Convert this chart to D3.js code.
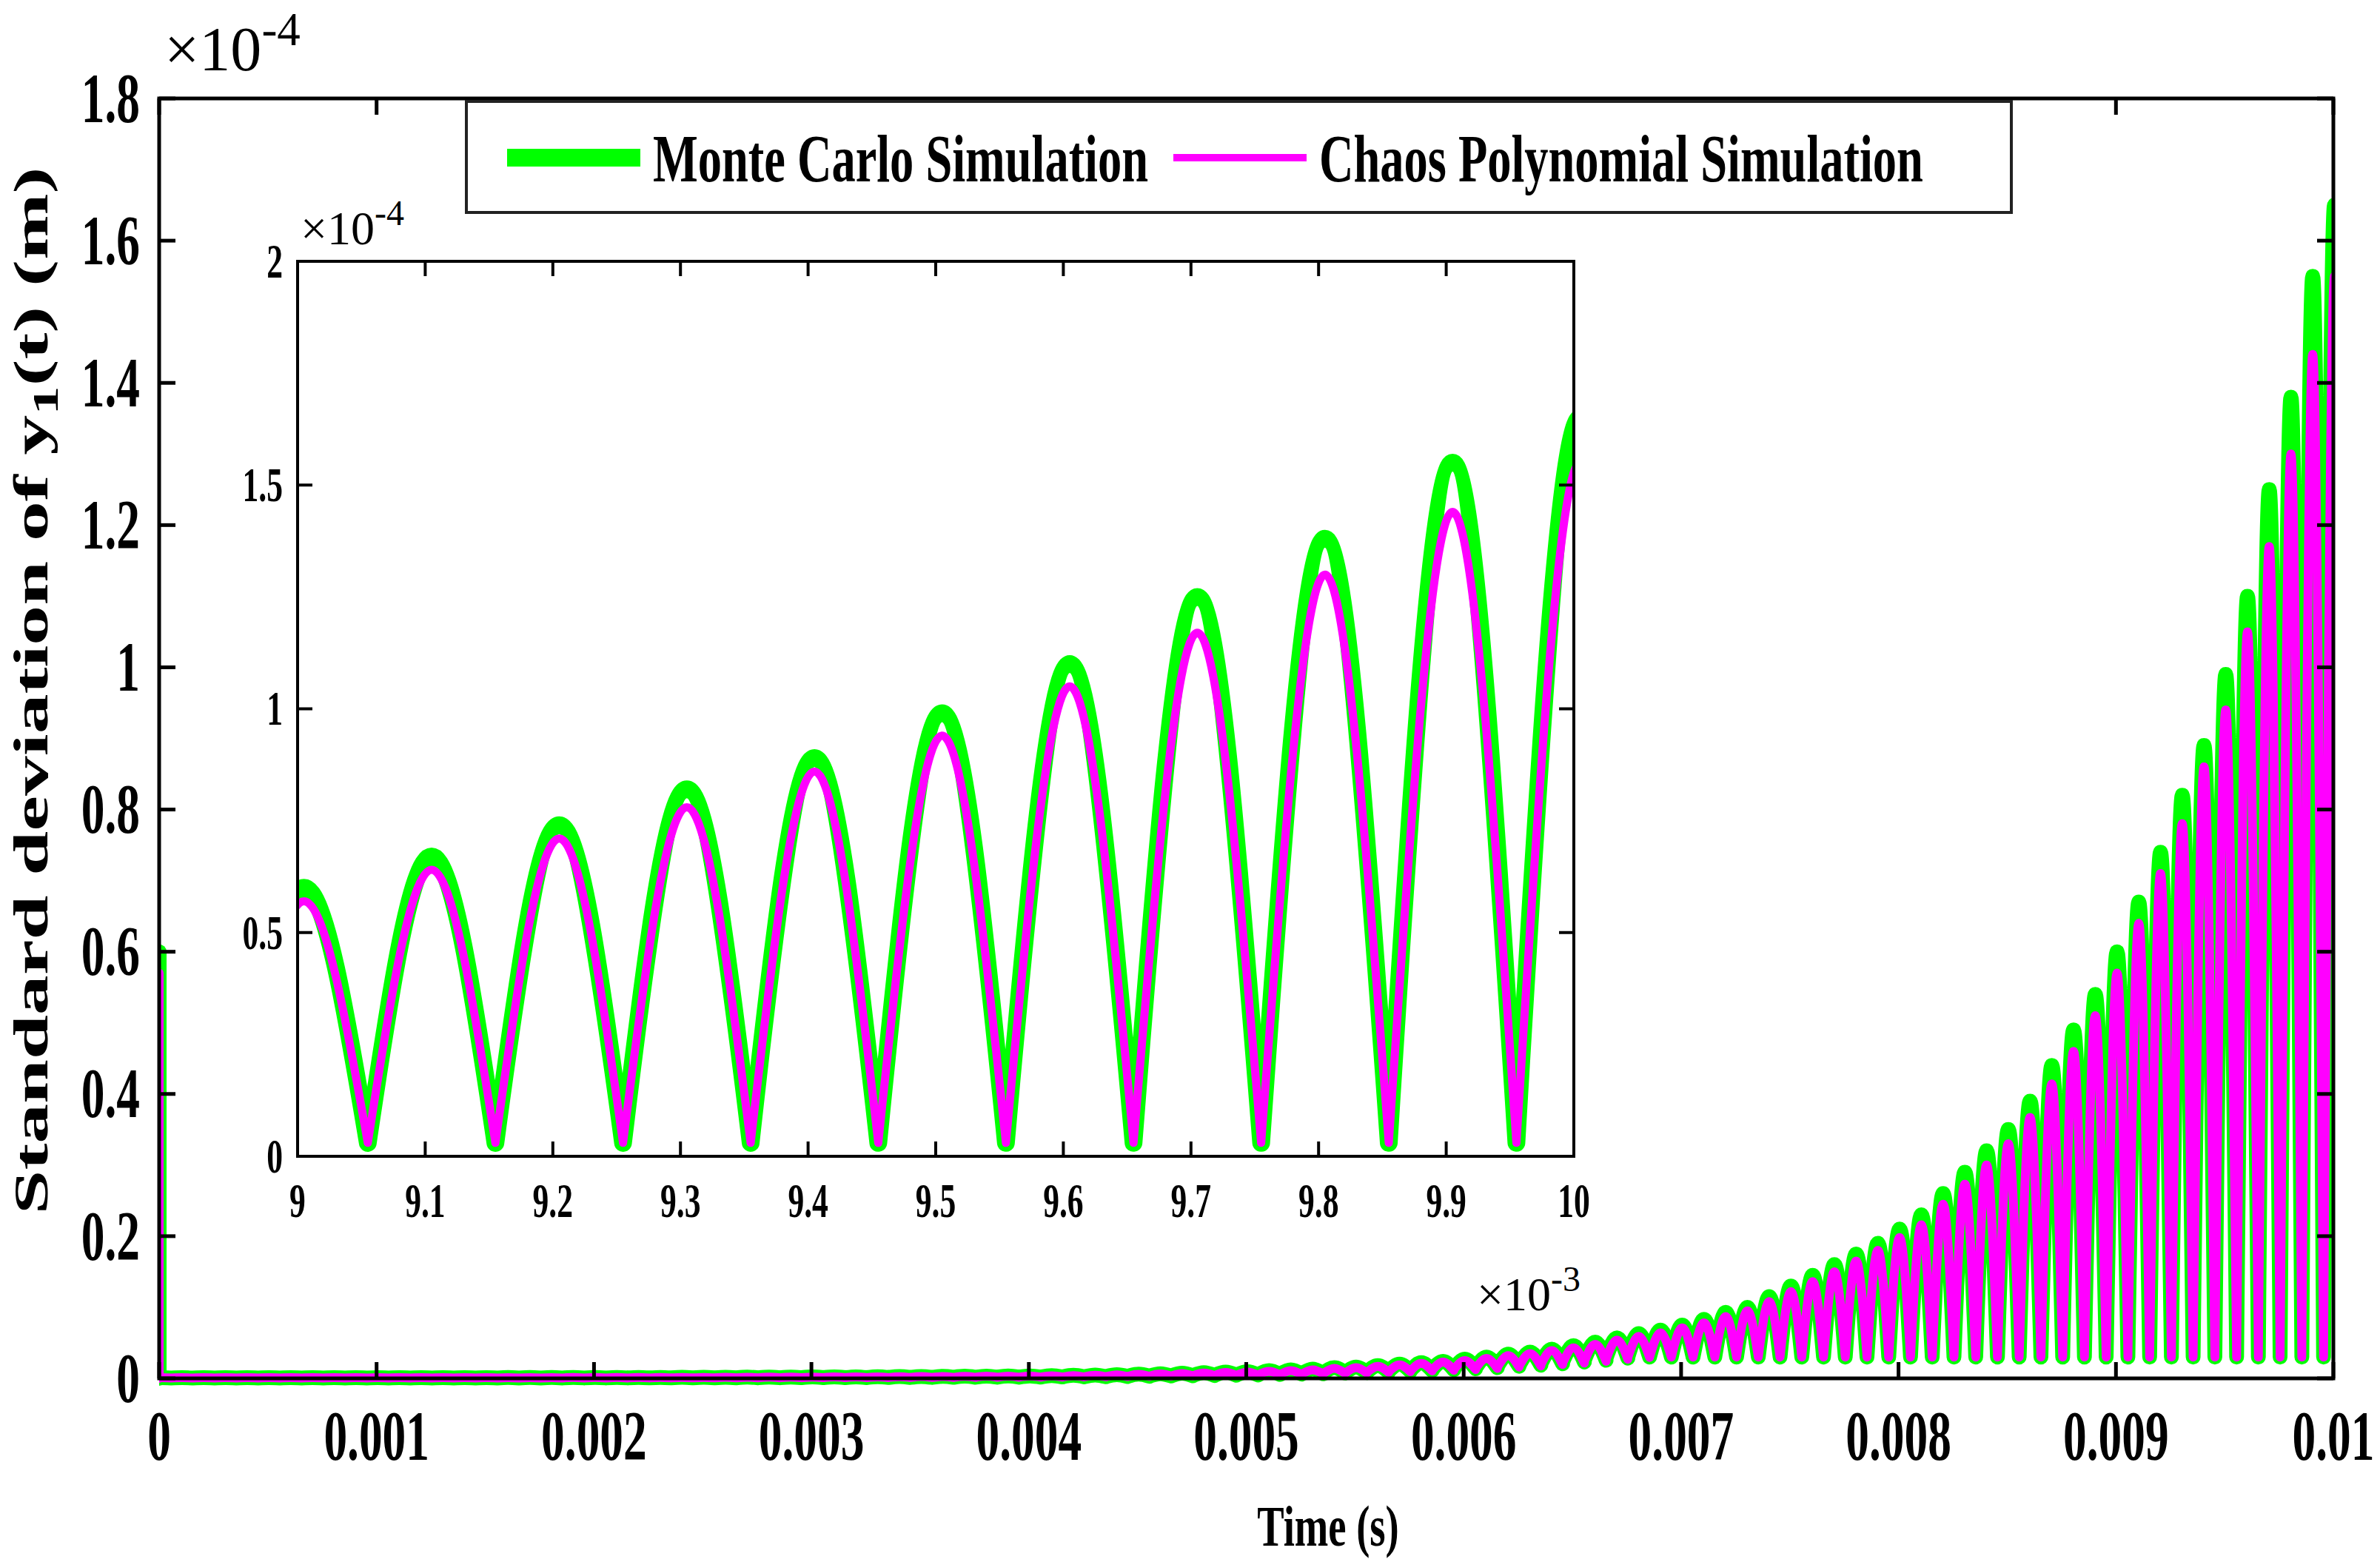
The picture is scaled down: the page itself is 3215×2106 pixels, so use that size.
<!DOCTYPE html>
<html>
<head>
<meta charset="utf-8">
<script src="https://cdn.jsdelivr.net/npm/d3@7"></script>
<style>
body { margin: 0; background: #fff; }
text { font-family: "Liberation Serif", "Times New Roman", serif; font-weight: bold; fill: #000; }
</style>
</head>
<body>
<svg id="chart" width="3215" height="2106"></svg>
<script>
'use strict';

// peak heights (x1e-4 m) of each oscillation lobe, lobe k peaks at t = k*1e-4 + 0.05e-4
var mcPeaks = [
    0.001, 0.001, 0.001, 0.001, 0.001, 0.001, 0.001, 0.001, 0.001, 0.001,
    0.001, 0.001, 0.001, 0.001, 0.001, 0.001, 0.0012, 0.0012, 0.0012, 0.0013,
    0.0013, 0.0013, 0.0014, 0.0014, 0.0015, 0.0015, 0.0016, 0.0017, 0.0018, 0.0019,
    0.002, 0.0021, 0.0022, 0.0024, 0.0025, 0.0027, 0.0029, 0.003, 0.0032, 0.0034,
    0.0035, 0.004, 0.0043, 0.0048, 0.0053, 0.006, 0.0066, 0.0073, 0.008, 0.0088,
    0.0095, 0.011, 0.012, 0.013, 0.015, 0.016, 0.018, 0.020, 0.022, 0.024,
    0.027, 0.030, 0.034, 0.037, 0.041, 0.046, 0.051, 0.057, 0.063, 0.068,
    0.075, 0.083, 0.093, 0.10, 0.115, 0.13, 0.145, 0.16, 0.175, 0.19,
    0.21, 0.23, 0.26, 0.29, 0.32, 0.35, 0.39, 0.44, 0.49, 0.54,
    0.60, 0.67, 0.74, 0.82, 0.89, 0.99, 1.10, 1.25, 1.38, 1.55,
    1.65
];
var pcPeaks = [
    0.001, 0.001, 0.001, 0.001, 0.001, 0.001, 0.001, 0.001, 0.001, 0.001,
    0.001, 0.001, 0.001, 0.001, 0.001, 0.001, 0.0011, 0.0011, 0.0011, 0.0012,
    0.0012, 0.0012, 0.0013, 0.0013, 0.0014, 0.0014, 0.0015, 0.0016, 0.0017, 0.0018,
    0.0019, 0.002, 0.0021, 0.0022, 0.0023, 0.0025, 0.0027, 0.0028, 0.003, 0.0032,
    0.0033, 0.0037, 0.004, 0.0045, 0.005, 0.0056, 0.0062, 0.0068, 0.0075, 0.0082,
    0.0089, 0.010, 0.011, 0.012, 0.014, 0.015, 0.017, 0.019, 0.021, 0.023,
    0.025, 0.028, 0.032, 0.035, 0.039, 0.043, 0.048, 0.054, 0.059, 0.064,
    0.071, 0.078, 0.087, 0.095, 0.108, 0.122, 0.136, 0.15, 0.165, 0.18,
    0.198, 0.216, 0.245, 0.273, 0.30, 0.33, 0.367, 0.414, 0.46, 0.51,
    0.57, 0.64, 0.71, 0.78, 0.86, 0.94, 1.05, 1.17, 1.30, 1.44,
    1.55
];
// initial spike at t = 0
var spikeT = [0, 0];
var spikeMC = [0.6, 0];
var spikePC = [0.57, 0];

var period = 1e-4;
var peakOffset = 0.05e-4;
var troughValue = 0.03;

var mainXTicks = [0, 0.001, 0.002, 0.003, 0.004, 0.005, 0.006, 0.007, 0.008, 0.009, 0.01];
var mainXLabels = ["0", "0.001", "0.002", "0.003", "0.004", "0.005", "0.006", "0.007", "0.008", "0.009", "0.01"];
var mainYTicks = [0, 0.2, 0.4, 0.6, 0.8, 1, 1.2, 1.4, 1.6, 1.8];
var mainYLabels = ["0", "0.2", "0.4", "0.6", "0.8", "1", "1.2", "1.4", "1.6", "1.8"];
var insetXTicks = [0.009, 0.0091, 0.0092, 0.0093, 0.0094, 0.0095, 0.0096, 0.0097, 0.0098, 0.0099, 0.01];
var insetXLabels = ["9", "9.1", "9.2", "9.3", "9.4", "9.5", "9.6", "9.7", "9.8", "9.9", "10"];
var insetYTicks = [0, 0.5, 1, 1.5, 2];
var insetYLabels = ["0", "0.5", "1", "1.5", "2"];
var seriesNames = ["Monte Carlo Simulation", "Chaos Polynomial Simulation"];
var green = "#00ff00", magenta = "#ff00ff";

var svg = d3.select("#chart");

function condense(sel, f) {
    sel.each(function() {
        var len = this.getComputedTextLength();
        d3.select(this).attr("textLength", len * f).attr("lengthAdjust", "spacingAndGlyphs");
    });
}

function lobePath(x, y, peaks) {
    var line = d3.line().x(function(d) { return x(d[0]); }).y(function(d) { return y(d[1]); }).curve(d3.curveNatural);
    var out = "";
    peaks.forEach(function(p, k) {
        var tp = k * period + peakOffset;
        var tv = Math.min(troughValue, p * 0.5);
        out += line([[tp - period / 2, tv], [tp, p], [tp + period / 2, tv]]);
    });
    return out;
}

function panel(g, x, y, o) {
    g.append("defs").append("clipPath").attr("id", o.id)
        .append("rect").attr("x", x.range()[0]).attr("y", y.range()[1] - o.pad)
        .attr("width", x.range()[1] - x.range()[0]).attr("height", y.range()[0] - y.range()[1] + 2 * o.pad);
    var plot = g.append("g").attr("clip-path", "url(#" + o.id + ")")
        .attr("fill", "none").attr("stroke-linejoin", "round").attr("stroke-linecap", "round");
    var sl = d3.line().x(function(d) { return x(d[0]); }).y(function(d) { return y(d[1]); });
    plot.append("path").attr("d", lobePath(x, y, mcPeaks)).attr("stroke", green).attr("stroke-width", o.mcW);
    if (o.spike) plot.append("path").attr("d", sl(d3.zip(spikeT, spikeMC))).attr("stroke", green).attr("stroke-width", o.mcW);
    plot.append("path").attr("d", lobePath(x, y, pcPeaks)).attr("stroke", magenta).attr("stroke-width", o.pcW);
    if (o.spike) plot.append("path").attr("d", sl(d3.zip(spikeT, spikePC))).attr("stroke", magenta).attr("stroke-width", o.pcW);

    var x0 = x.range()[0], x1 = x.range()[1], y0 = y.range()[0], y1 = y.range()[1];
    var ax = g.append("g").attr("stroke", "#000").attr("stroke-width", o.axW);
    o.xt.forEach(function(t) {
        ax.append("line").attr("x1", x(t)).attr("x2", x(t)).attr("y1", y0).attr("y2", y0 - o.tick);
        ax.append("line").attr("x1", x(t)).attr("x2", x(t)).attr("y1", y1).attr("y2", y1 + o.tick);
    });
    o.yt.forEach(function(t) {
        ax.append("line").attr("x1", x0).attr("x2", x0 + o.tick).attr("y1", y(t)).attr("y2", y(t));
        ax.append("line").attr("x1", x1).attr("x2", x1 - o.tick).attr("y1", y(t)).attr("y2", y(t));
    });
    ax.append("rect").attr("x", x0).attr("y", y1).attr("width", x1 - x0).attr("height", y0 - y1).attr("fill", "none");

    g.selectAll(null).data(o.xt).enter().append("text")
        .attr("x", function(d) { return x(d); }).attr("y", y0 + o.xlab)
        .attr("text-anchor", "middle").attr("font-size", o.fs)
        .text(function(d, i) { return o.xl[i]; }).call(condense, 0.66);
    g.selectAll(null).data(o.yt).enter().append("text")
        .attr("x", x0 - o.ylab).attr("y", function(d) { return y(d) + o.fs * 0.33; })
        .attr("text-anchor", "end").attr("font-size", o.fs)
        .text(function(d, i) { return o.yl[i]; }).call(condense, 0.66);
}

// main axes
var mx = d3.scaleLinear().domain([0, 0.01]).range([215, 3152]);
var my = d3.scaleLinear().domain([0, 1.8]).range([1862, 133]);
var gm = svg.append("g");
panel(gm, mx, my, { id: "clipMain", mcW: 20, pcW: 12, axW: 5, tick: 22, pad: 12, xt: mainXTicks, xl: mainXLabels,
    yt: mainYTicks, yl: mainYLabels, fs: 96, xlab: 110, ylab: 26, spike: true });

// exponent labels
function expo(g, x, y, fs, e) {
    var t = g.append("text").attr("x", x).attr("y", y).attr("font-size", fs).style("font-weight", "normal");
    t.append("tspan").text("\u00d710");
    t.append("tspan").attr("dy", -fs * 0.4).attr("font-size", fs * 0.75).text(e);
}
expo(svg, 222, 95, 84, "-4");

// legend
var lg = svg.append("g");
lg.append("rect").attr("x", 630).attr("y", 137).attr("width", 2087).attr("height", 150)
    .attr("fill", "#fff").attr("stroke", "#222").attr("stroke-width", 4);
lg.append("line").attr("x1", 685).attr("x2", 865).attr("y1", 213).attr("y2", 213).attr("stroke", green).attr("stroke-width", 24);
lg.append("text").attr("x", 882).attr("y", 245).attr("font-size", 92).text(seriesNames[0]).call(condense, 0.7);
lg.append("line").attr("x1", 1585).attr("x2", 1765).attr("y1", 213).attr("y2", 213).attr("stroke", magenta).attr("stroke-width", 10);
lg.append("text").attr("x", 1782).attr("y", 245).attr("font-size", 92).text(seriesNames[1]).call(condense, 0.7);

// inset
var ix = d3.scaleLinear().domain([0.009, 0.01]).range([402, 2126]);
var iy = d3.scaleLinear().domain([0, 2]).range([1562, 353]);
var gi = svg.append("g");
gi.append("rect").attr("x", 402).attr("y", 353).attr("width", 1724).attr("height", 1209).attr("fill", "#fff");
panel(gi, ix, iy, { id: "clipInset", mcW: 24, pcW: 11, axW: 4, tick: 20, pad: 0, xt: insetXTicks, xl: insetXLabels,
    yt: insetYTicks, yl: insetYLabels, fs: 66, xlab: 82, ylab: 20, spike: false });
expo(svg, 406, 330, 64, "-4");
expo(svg, 1995, 1770, 64, "-3");

// axis titles
svg.append("text").attr("transform", "translate(64,933) rotate(-90)").attr("text-anchor", "middle")
    .attr("font-size", 66)
    .call(function(t) {
        t.append("tspan").text("Standard deviation of  y");
        t.append("tspan").attr("dy", 14).attr("font-size", 48).text("1");
        t.append("tspan").attr("dy", -14).text("(t) (m)");
    }).attr("textLength", 1415).attr("lengthAdjust", "spacingAndGlyphs");
svg.append("text").attr("x", 1794).attr("y", 2088).attr("text-anchor", "middle").attr("font-size", 78)
    .text("Time (s)").call(condense, 0.7);
</script>
</body>
</html>
